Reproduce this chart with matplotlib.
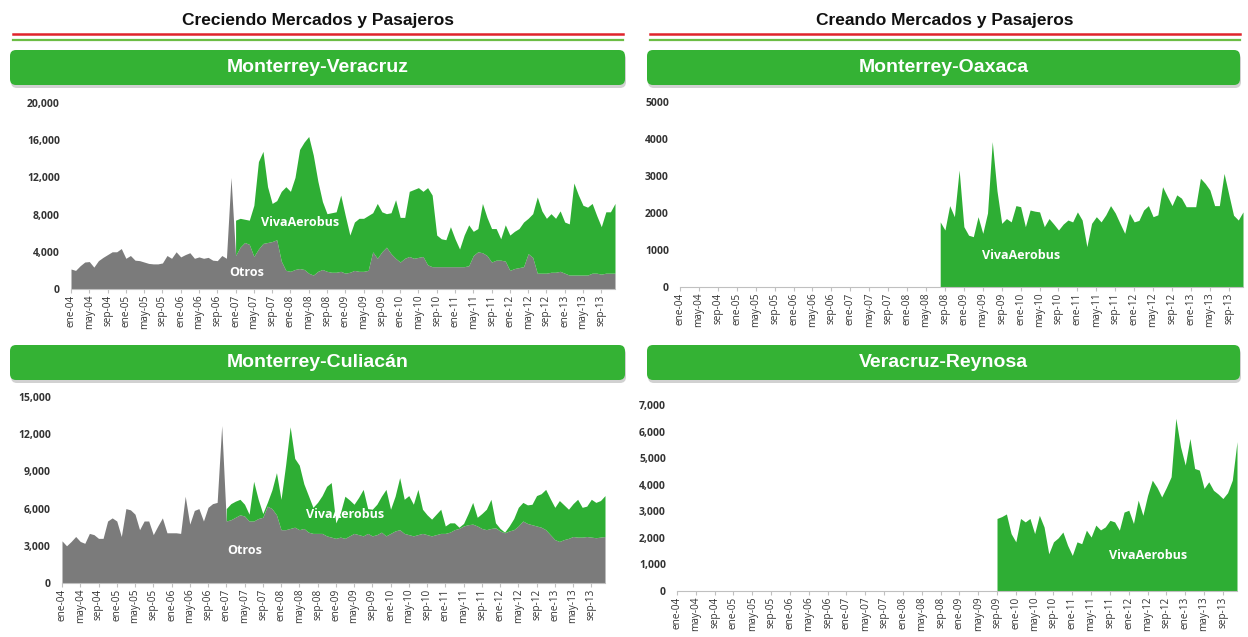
import numpy as np
import matplotlib
matplotlib.use("Agg")
import matplotlib.pyplot as plt
from matplotlib.patches import FancyBboxPatch
from matplotlib.ticker import FuncFormatter

# monthly data ene-04 .. dic-13 (120 months)
months = np.arange(120)
tick_labels = ['ene-04', 'may-04', 'sep-04', 'ene-05', 'may-05', 'sep-05',
               'ene-06', 'may-06', 'sep-06', 'ene-07', 'may-07', 'sep-07',
               'ene-08', 'may-08', 'sep-08', 'ene-09', 'may-09', 'sep-09',
               'ene-10', 'may-10', 'sep-10', 'ene-11', 'may-11', 'sep-11',
               'ene-12', 'may-12', 'sep-12', 'ene-13', 'may-13', 'sep-13']

# Monterrey-Veracruz
otros_ver = [2150, 2000, 2500, 2900, 2950, 2350, 3050, 3400, 3700, 4000,
             4000, 4350, 3300, 3600, 3100, 3050, 2900, 2750, 2700, 2700,
             2800, 3600, 3300, 4000, 3450, 3700, 3900, 3300, 3450, 3300,
             3400, 3100, 3050, 3600, 3300, 12000,
             3600, 4500, 5000, 4800, 3500, 4300, 4900, 5000, 5100, 5300,
             3000, 2000, 1900, 2100, 2200, 2100, 1700, 1500, 1900, 2100,
             1900, 1800, 1800, 1900, 1700, 1800, 2000, 1900, 1900, 2000,
             4000, 3300, 4000, 4500, 3800, 3300, 2900, 3300, 3500, 3300,
             3400, 3500, 2600, 2400, 2400, 2400, 2400, 2400, 2400, 2400,
             2400, 2500, 3600, 4000, 3900, 3600, 2900, 3100, 3100, 3000,
             2000, 2200, 2300, 2400, 3800, 3400, 1700, 1700, 1700, 1800,
             1800, 1900, 1700, 1500, 1500, 1500, 1500, 1500, 1700, 1700,
             1600, 1700, 1700, 1700]
viva_ver_start = 36
viva_ver = [3800, 3100, 2500, 2600, 5500, 9400, 9900, 6000, 4100, 4200,
            7500, 9000, 8600, 9900, 12800, 13700, 14700, 12900, 9700, 7300,
            6200, 6400, 6500, 8200, 6200, 4000, 5200, 5700, 5700, 5900,
            4200, 5900, 4300, 3600, 4400, 6300, 4800, 4400, 7000, 7400,
            7500, 7000, 8300, 7700, 3400, 3000, 2900, 4300, 3000, 1900,
            3400, 4400, 2600, 2500, 5300, 4100, 3600, 3400, 2300, 3900,
            3800, 4000, 4200, 4800, 3800, 4700, 8200, 6700, 5900, 6300,
            5800, 6500, 5500, 5500, 9900, 8600, 7500, 7300, 7500, 6200,
            5100, 6600, 6600, 7500]

# Monterrey-Culiacan
otros_cul = [3400, 3000, 3350, 3750, 3350, 3200, 4000, 3900, 3600, 3600,
             5000, 5250, 5000, 3750, 6000, 5900, 5550, 4300, 5000, 5000,
             3900, 4600, 5250, 4050, 4050, 4050, 4000, 7000, 4750, 5850,
             6000, 5000, 6100, 6400, 6500, 12700,
             5000, 5100, 5300, 5500, 5400, 5000, 5000, 5200, 5300, 6200,
             6000, 5500, 4300, 4300, 4400, 4500, 4300, 4400, 4100, 4000,
             4000, 4000, 3800, 3700, 3600, 3700, 3600, 3800, 4000, 3900,
             3800, 4000, 3800, 3900, 4100, 3800, 4000, 4200, 4300, 4000,
             3900, 3800, 3900, 4000, 3900, 3800, 3900, 4000, 4000, 4100,
             4300, 4400, 4600, 4700, 4750, 4600, 4400, 4300, 4400, 4450,
             4200, 4050, 4200, 4300, 4600, 5000, 4800, 4700, 4600, 4500,
             4300, 3900, 3500, 3350, 3500, 3600, 3750, 3700, 3700, 3750,
             3700, 3650, 3700, 3750]
viva_cul_start = 36
viva_cul = [1000, 1300, 1300, 1250, 950, 550, 3200, 1550, 300, 300,
            1500, 3400, 2450, 5200, 8200, 5550, 5200, 3600, 2950, 2100,
            2500, 3050, 4000, 4400, 1250, 1950, 3400, 2900, 2350, 3000,
            3750, 2000, 2150, 2450, 2900, 3750, 1950, 2800, 4200, 2750,
            3150, 2550, 3650, 1950, 1600, 1350, 1650, 1950, 600, 750,
            550, 100, 200, 900, 1750, 700, 1200, 1650, 2350, 400,
            200, 50, 400, 900, 1500, 1500, 1500, 1650, 2450, 2700,
            3250, 2900, 2600, 3300, 2800, 2350, 2650, 3050, 2400, 2450,
            3050, 2850, 2950, 3300]

# Monterrey-Oaxaca (VivaAerobus only)
viva_oax_start = 55
viva_oax = [1760, 1540, 2200, 1900, 3160, 1630, 1400, 1360, 1900, 1450,
            2000, 3930, 2600, 1720, 1850, 1760, 2200, 2170, 1630, 2080,
            2050, 2030, 1630, 1850, 1700, 1540, 1700, 1810, 1760, 2030,
            1810, 1090, 1720, 1900, 1760, 1950, 2200, 2000, 1720, 1450,
            1990, 1760, 1800, 2080, 2200, 1900, 1950, 2710, 2450, 2200,
            2490, 2400, 2170, 2170, 2170, 2940, 2800, 2620, 2200, 2200,
            3070, 2500, 1940, 1810, 2030]

# Veracruz-Reynosa (VivaAerobus only)
viva_rey_start = 68
viva_rey = [2730, 2800, 2900, 2160, 1850, 2730, 2600, 2730, 2160, 2850,
            2410, 1400, 1850, 2000, 2220, 1720, 1340, 1850, 1780, 2290,
            2030, 2480, 2300, 2410, 2660, 2600, 2290, 2970, 3040, 2540,
            3420, 2850, 3600, 4170, 3900, 3540, 3900, 4300, 6500, 5430,
            4740, 5740, 4610, 4550, 3860, 4110, 3790, 3650, 3480, 3700,
            4170, 5620]

GREEN = '#2eae34'
GRAY = '#7b7b7b'
BOX_GREEN = '#34b234'
W, H = 1248, 637

fig = plt.figure(figsize=(W / 100, H / 100), dpi=100)
fig.patch.set_facecolor('white')

titlefont = ['Liberation Sans', 'DejaVu Sans']
tickfont = ['Open Sans', 'DejaVu Sans']


def make_axes(x0, x1, y_zero, y_top):
    return fig.add_axes([x0 / W, (H - y_zero) / H, (x1 - x0) / W, (y_zero - y_top) / H])


def style_axes(ax, ymax, ystep, comma=True):
    ax.set_xlim(0, 119)
    ax.set_ylim(0, ymax)
    ax.set_yticks(np.arange(0, ymax + 1, ystep))
    if comma:
        ax.yaxis.set_major_formatter(FuncFormatter(lambda v, p: f'{int(v):,}'))
    else:
        ax.yaxis.set_major_formatter(FuncFormatter(lambda v, p: f'{int(v)}'))
    ax.set_xticks(np.arange(0, 120, 4))
    ax.set_xticklabels(tick_labels, rotation=90, fontsize=7.2, family=tickfont, color='#333333')
    for s in ['top', 'right', 'left']:
        ax.spines[s].set_visible(False)
    ax.spines['bottom'].set_color('#c0c0c0')
    ax.spines['bottom'].set_linewidth(0.8)
    ax.tick_params(axis='x', length=3, color='#c0c0c0', pad=1)
    ax.tick_params(axis='y', length=0, pad=8, labelsize=7.5, labelcolor='#333333')
    for t in ax.get_yticklabels():
        t.set_family(tickfont)
        t.set_fontweight('bold')
    ax.set_facecolor('none')


def header(x0, x1, y0, y1, title):
    # shadow then rounded green box, pixel coords converted to inches
    sh = FancyBboxPatch((x0 / 100 + 0.01, (H - y1) / 100 - 0.03), (x1 - x0) / 100, (y1 - y0) / 100,
                        boxstyle='round,pad=0,rounding_size=0.06', transform=fig.dpi_scale_trans,
                        facecolor='#999999', edgecolor='none', alpha=0.45, zorder=1)
    fig.patches.append(sh)
    bx = FancyBboxPatch((x0 / 100, (H - y1) / 100), (x1 - x0) / 100, (y1 - y0) / 100,
                        boxstyle='round,pad=0,rounding_size=0.06', transform=fig.dpi_scale_trans,
                        facecolor=BOX_GREEN, edgecolor='none', zorder=2)
    fig.patches.append(bx)
    fig.text((x0 + x1) / 2 / W, 1 - (y0 + y1) / 2 / H, title, ha='center', va='center',
             color='white', fontsize=14, fontweight='bold', family=titlefont, zorder=3)


def section_title(x0, x1, title):
    fig.text((x0 + x1) / 2 / W, 1 - 20 / H, title, ha='center', va='center',
             fontsize=12.5, fontweight='bold', family=titlefont, color='#111111')
    fig.add_artist(plt.Line2D([x0 / W, x1 / W], [1 - 34 / H, 1 - 34 / H], color='#e0232b', lw=1.8))
    fig.add_artist(plt.Line2D([x0 / W, x1 / W], [1 - 40 / H, 1 - 40 / H], color='#6cbd45', lw=1.6))


section_title(13, 623, 'Creciendo Mercados y Pasajeros')
section_title(650, 1240, 'Creando Mercados y Pasajeros')
header(10, 625, 50, 85, 'Monterrey-Veracruz')
header(647, 1240, 50, 85, 'Monterrey-Oaxaca')
header(10, 625, 345, 380, 'Monterrey-Culiacán')
header(647, 1240, 345, 380, 'Veracruz-Reynosa')

label_kw = dict(color='white', fontsize=9, fontweight='bold', family=tickfont, ha='center', va='center')

# Monterrey-Veracruz
ax1 = make_axes(71, 615, 289, 103)
ov = np.array(otros_ver, dtype=float)
ax1.fill_between(months, 0, ov, color=GRAY, lw=0)
m = months[viva_ver_start:]
ax1.fill_between(m, ov[viva_ver_start:], ov[viva_ver_start:] + np.array(viva_ver), color=GREEN, lw=0)
style_axes(ax1, 20000, 4000)
ax1.text(50, 7200, 'VivaAerobus', **label_kw)
ax1.text(38.5, 1800, 'Otros', **label_kw)

# Monterrey-Oaxaca
ax2 = make_axes(680, 1243, 287, 102)
m = months[viva_oax_start:]
ax2.fill_between(m, 0, viva_oax, color=GREEN, lw=0)
style_axes(ax2, 5000, 1000, comma=False)
ax2.text(72, 850, 'VivaAerobus', **label_kw)

# Monterrey-Culiacan
ax3 = make_axes(62, 605, 583, 397)
oc = np.array(otros_cul, dtype=float)
ax3.fill_between(months, 0, oc, color=GRAY, lw=0)
m = months[viva_cul_start:]
ax3.fill_between(m, oc[viva_cul_start:], oc[viva_cul_start:] + np.array(viva_cul), color=GREEN, lw=0)
style_axes(ax3, 15000, 3000)
ax3.text(62, 5500, 'VivaAerobus', **label_kw)
ax3.text(40, 2600, 'Otros', **label_kw)

# Veracruz-Reynosa
ax4 = make_axes(677, 1237, 591, 405)
m = months[viva_rey_start:]
ax4.fill_between(m, 0, viva_rey, color=GREEN, lw=0)
style_axes(ax4, 7000, 1000)
ax4.text(100, 1350, 'VivaAerobus', **label_kw)

fig.savefig('out.png', dpi=100)
